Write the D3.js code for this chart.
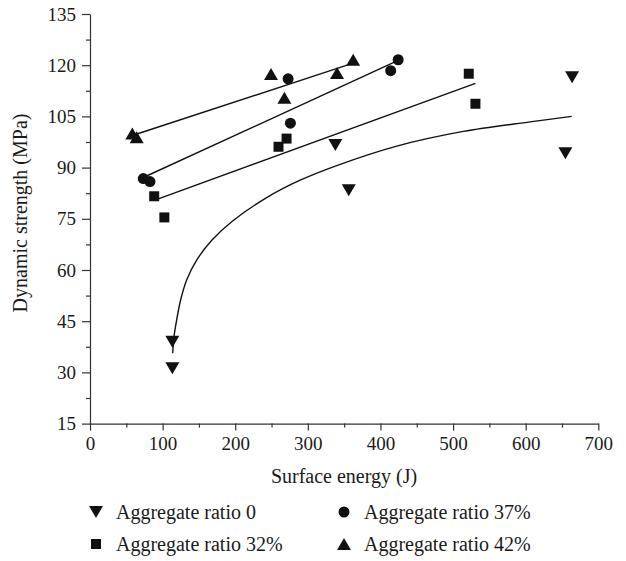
<!DOCTYPE html>
<html><head><meta charset="utf-8">
<script src="https://cdn.jsdelivr.net/npm/d3@7/dist/d3.min.js"></script>
<style>
body{margin:0;background:#fff}
svg{display:block}
text{font-family:"Liberation Serif","DejaVu Serif",serif;fill:#1a1a1a}
</style>
</head><body>
<svg id="chart" width="626" height="561"></svg>
<script>
// ---- data ----
const xTickValues = [0, 100, 200, 300, 400, 500, 600, 700];
const xMinorTicks = [50, 150, 250, 350, 450, 550, 650];
const yTickValues = [15, 30, 45, 60, 75, 90, 105, 120, 135];
const yMinorTicks = [22.5, 37.5, 52.5, 67.5, 82.5, 97.5, 112.5, 127.5];

const xTitle = "Surface energy (J)";
const yTitle = "Dynamic strength (MPa)";

const seriesNames = ["Aggregate ratio 0", "Aggregate ratio 32%", "Aggregate ratio 37%", "Aggregate ratio 42%"];
const seriesShapes = ["triangleDown", "square", "circle", "triangleUp"];

const ratio0X  = [113.4, 113.4, 337.9, 356.3, 654.7, 663.9];
const ratio0Y  = [39.0, 31.2, 96.6, 83.4, 94.2, 116.5];
const ratio32X = [88.4, 102.4, 259.6, 270.7, 521.6, 530.8];
const ratio32Y = [81.6, 75.4, 96.1, 98.5, 117.5, 108.7];
const ratio37X = [73.4, 82.6, 272.8, 276.0, 414.1, 424.4];
const ratio37Y = [86.8, 85.9, 116.0, 103.0, 118.4, 121.6];
const ratio42X = [58.3, 64.3, 249.3, 267.7, 340.2, 362.4];
const ratio42Y = [100.0, 98.9, 117.4, 110.5, 117.7, 121.6];

// fitted lines (end points)
const fit32X = [88.4, 530.8];
const fit32Y = [80.4, 114.7];
const fit37X = [73.4, 424.4];
const fit37Y = [87.1, 121.4];
const fit42X = [58.3, 362.4];
const fit42Y = [99.4, 120.6];
// fitted curve for ratio 0
const fit0X = [113.9, 115.7, 119.3, 124.8, 133.1, 146.9, 168.0, 196.0, 243.3, 289.3, 339.8, 422.5, 514.1, 606.0, 663.4];
const fit0Y = [35.6, 40.5, 45.3, 51.2, 57.1, 62.9, 68.8, 74.3, 81.2, 86.3, 90.6, 96.3, 100.6, 103.4, 105.0];

// ---- drawing ----
const svg = d3.select("#chart");
const x = d3.scaleLinear().domain([0, 700]).range([90, 598.3]);
const y = d3.scaleLinear().domain([15, 135]).range([423.6, 14]);
const ink = "#111";

function shapePath(shape, w, h) {
  const p = d3.path();
  if (shape === "triangleUp") {
    p.moveTo(0, -h / 2); p.lineTo(w / 2, h / 2); p.lineTo(-w / 2, h / 2); p.closePath();
  } else if (shape === "triangleDown") {
    p.moveTo(0, h / 2); p.lineTo(w / 2, -h / 2); p.lineTo(-w / 2, -h / 2); p.closePath();
  } else if (shape === "square") {
    p.rect(-w / 2, -w / 2, w, w);
  } else {
    p.arc(0, 0, w / 2, 0, Math.PI * 2);
  }
  return p.toString();
}
const sizeW = {triangleUp: 14, triangleDown: 14, square: 10, circle: 11};
const sizeH = {triangleUp: 12, triangleDown: 12, square: 10, circle: 11};

// axes
const gx = svg.append("g").attr("transform", `translate(0,${y(15)})`)
  .call(d3.axisBottom(x).tickValues(xTickValues).tickSize(7).tickSizeOuter(0).tickPadding(6));
const gxm = svg.append("g").attr("transform", `translate(0,${y(15)})`)
  .call(d3.axisBottom(x).tickValues(xMinorTicks).tickSize(4).tickFormat(""));
gxm.select(".domain").remove();
const gy = svg.append("g").attr("transform", `translate(${x(0)},0)`)
  .call(d3.axisLeft(y).tickValues(yTickValues).tickSize(8).tickSizeOuter(0).tickPadding(6));
const gym = svg.append("g").attr("transform", `translate(${x(0)},0)`)
  .call(d3.axisLeft(y).tickValues(yMinorTicks).tickSize(4).tickFormat(""));
gym.select(".domain").remove();
svg.selectAll(".domain, .tick line").attr("stroke", "#333").attr("stroke-width", 1.2);
gx.selectAll("text").attr("font-size", 19).attr("font-family", "Liberation Serif").attr("fill", "#1a1a1a");
gy.selectAll("text").attr("font-size", 19).attr("font-family", "Liberation Serif").attr("fill", "#1a1a1a");

// axis titles
svg.append("text").attr("x", 344).attr("y", 483).attr("text-anchor", "middle")
  .attr("font-size", 20).text(xTitle);
svg.append("text").attr("transform", `translate(27,213) rotate(-90)`).attr("text-anchor", "middle")
  .attr("font-size", 20).text(yTitle);

// fit lines
const line = d3.line().x(d => x(d[0])).y(d => y(d[1]));
const curve = d3.line().x(d => x(d[0])).y(d => y(d[1])).curve(d3.curveCatmullRom.alpha(0.5));
const fits = [
  [fit32X, fit32Y, line],
  [fit37X, fit37Y, line],
  [fit42X, fit42Y, line],
  [fit0X, fit0Y, curve]
];
fits.forEach(([fx, fy, gen]) => {
  svg.append("path").datum(d3.zip(fx, fy)).attr("d", gen)
    .attr("fill", "none").attr("stroke", ink).attr("stroke-width", 1.4);
});

// points
const seriesX = [ratio0X, ratio32X, ratio37X, ratio42X];
const seriesY = [ratio0Y, ratio32Y, ratio37Y, ratio42Y];
seriesNames.forEach((name, i) => {
  const shape = seriesShapes[i];
  svg.append("g").selectAll("path").data(d3.zip(seriesX[i], seriesY[i])).join("path")
    .attr("transform", d => `translate(${x(d[0])},${y(d[1])})`)
    .attr("d", shapePath(shape, sizeW[shape], sizeH[shape]))
    .attr("fill", ink);
});

// legend
const legendPos = [[96, 512], [96, 544], [344, 512], [344, 544]];
seriesNames.forEach((name, i) => {
  const shape = seriesShapes[i];
  const [lx, ly] = legendPos[i];
  svg.append("path").attr("transform", `translate(${lx},${ly})`)
    .attr("d", shapePath(shape, sizeW[shape], sizeH[shape])).attr("fill", ink);
  svg.append("text").attr("x", lx + 20).attr("y", ly + 6.5).attr("font-size", 20).text(name);
});
</script>
</body></html>
